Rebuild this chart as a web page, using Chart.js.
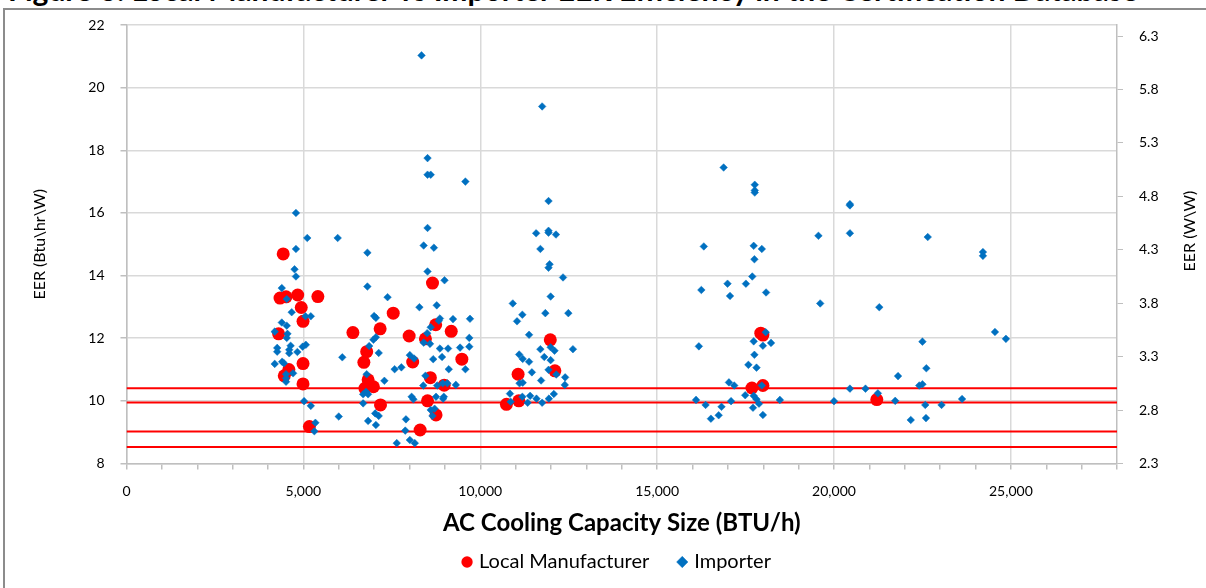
<!DOCTYPE html>
<html>
<head>
<meta charset="utf-8">
<script src="https://cdn.jsdelivr.net/npm/chart.js@4.4.1/dist/chart.umd.min.js"></script>
<style>
  html, body { margin: 0; padding: 0; background: #fff; }
  body { width: 1206px; height: 588px; position: relative; overflow: hidden; }
  #caption { position: absolute; left: 8px; top: -26px; font: bold 30px/30px Lato, sans-serif; color: #000; white-space: nowrap; }
  #frame { position: absolute; left: 3px; top: 8px; width: 1220px; height: 600px; border-left: 2px solid #8c8c8c; border-top: 2px solid #8c8c8c; }
  #chartScatter { position: absolute; left: 0; top: 0; }
</style>
</head>
<body>
<div id="caption">Figure 6: Local Manufacturer vs Importer EER Efficiency in the Certification Database</div>
<div id="frame"></div>
<canvas id="chartScatter" width="1206" height="588"></canvas>
<script>
// Scatter: EER vs cooling capacity, local manufacturers vs importers
// points are [capacity BTU/h, EER Btu/h/W]

const localPoints = [
    [4430, 14.69], [4340, 13.28], [4510, 13.32], [4840, 13.38], [5410, 13.33],
    [4940, 12.98], [4990, 12.54], [4300, 12.14], [6400, 12.18], [4990, 11.19],
    [4590, 11.0], [4460, 10.8], [4990, 10.54], [5170, 9.18],
    [8650, 13.76], [7540, 12.8], [7170, 12.3], [8740, 12.43], [9180, 12.22],
    [7990, 12.07], [8450, 11.98], [6790, 11.57], [6710, 11.23], [8090, 11.24],
    [9480, 11.33], [8590, 10.74], [8980, 10.5], [6830, 10.67], [6980, 10.45],
    [6740, 10.4], [7180, 9.87], [8510, 10.0], [8750, 9.55], [8300, 9.07],
    [11980, 11.95], [11070, 10.85], [12110, 10.96], [10740, 9.89], [11090, 10.0],
    [17930, 12.16], [17990, 12.1], [17680, 10.41], [17990, 10.49], [21210, 10.04]
];

const importerPoints = [
    // ~4,000 - 6,000
    [4790, 16.0], [5110, 15.2], [5970, 15.2], [4790, 14.85], [4750, 14.2],
    [4790, 13.97], [4390, 13.6], [4530, 13.25], [4670, 12.83], [5060, 12.7],
    [5210, 12.7], [4390, 12.5], [4530, 12.4], [4190, 12.21], [4550, 12.14],
    [4530, 12.01], [4640, 11.76], [4260, 11.69], [4260, 11.57], [4600, 11.63],
    [4600, 11.52], [4830, 11.56], [4980, 11.73], [5070, 11.79], [6100, 11.39],
    [4190, 11.18], [4400, 11.25], [4450, 11.2], [4710, 10.88], [4510, 10.85],
    [4510, 10.72], [4510, 10.61], [5020, 9.99], [5210, 9.84], [6000, 9.5],
    [5340, 9.3], [5310, 9.03],
    // ~7,000 - 10,000
    [6810, 14.73], [6810, 13.65], [6790, 10.85], [6770, 10.29], [6690, 10.21],
    [6830, 10.21], [6690, 9.92], [6830, 9.36],
    [8340, 21.03], [8510, 17.75], [8510, 17.22], [8600, 17.22], [9580, 17.0],
    [8510, 15.52], [8400, 14.96], [8690, 14.89], [8510, 14.13], [8990, 13.85],
    [7380, 13.31], [8280, 12.99], [8770, 13.05], [7000, 12.71], [7050, 12.65],
    [8860, 12.63], [8830, 12.56], [9230, 12.61], [9710, 12.62], [8600, 12.35],
    [7050, 12.03], [6980, 11.95], [6860, 11.75], [8500, 12.16], [8400, 11.86],
    [8580, 11.82], [8860, 11.67], [9090, 11.67], [9430, 11.7], [9690, 12.01],
    [9690, 11.73], [7130, 11.53], [8920, 11.4], [8670, 11.33], [8010, 11.46],
    [8130, 11.35], [7580, 11.01], [7770, 11.07], [9110, 11.01], [9580, 11.01],
    [7290, 10.64], [8450, 10.8], [8390, 10.49], [8780, 10.49], [8940, 10.56],
    [9070, 10.56], [9310, 10.51], [8060, 10.13], [8110, 10.05], [8750, 10.13],
    [8970, 10.13], [8950, 10.07], [8600, 9.71], [8650, 9.52], [8710, 9.75],
    [7030, 9.6], [7130, 9.52], [7050, 9.23], [7900, 9.41], [7880, 9.05],
    [7640, 8.65], [8010, 8.75], [8150, 8.65],
    // ~11,000 - 12,600
    [11750, 19.4], [11930, 16.38], [11580, 15.35], [11930, 15.43], [11930, 15.37],
    [12140, 15.31], [11700, 14.85], [11960, 14.36], [11930, 14.25], [12340, 13.94],
    [11990, 13.33], [10920, 13.11], [11840, 12.8], [12490, 12.8], [11040, 12.54],
    [11190, 12.75], [11380, 12.11], [11700, 11.65], [11990, 11.71], [12100, 11.6],
    [12620, 11.65], [11100, 11.48], [11200, 11.34], [11380, 11.25], [11810, 11.4],
    [11990, 11.3], [11460, 10.91], [11930, 10.99], [12150, 10.84], [11110, 10.56],
    [11200, 10.58], [11720, 10.65], [12400, 10.75], [12390, 10.51], [10840, 10.23],
    [12080, 10.22], [11190, 10.13], [11410, 10.16], [11590, 10.07], [11940, 10.07],
    [10860, 9.97], [11340, 9.94], [11750, 9.94],
    // ~16,000 - 18,500
    [16880, 17.45], [17760, 16.9], [17760, 16.72], [17760, 16.65], [16320, 14.93],
    [17730, 14.95], [17960, 14.85], [17750, 14.52], [17690, 13.97], [16990, 13.74],
    [17510, 13.74], [16250, 13.54], [17060, 13.35], [18080, 13.46], [18070, 12.19],
    [17730, 11.9], [17990, 11.76], [18220, 11.85], [16180, 11.74], [17750, 11.47],
    [17580, 11.15], [17810, 11.06], [17030, 10.59], [17180, 10.49], [17960, 10.49],
    [17490, 10.18], [17730, 10.16], [17810, 10.05], [16100, 10.03], [18470, 10.03],
    [17090, 9.99], [16370, 9.87], [17880, 9.91], [16820, 9.81], [17710, 9.78],
    [17990, 9.55], [16740, 9.54], [16520, 9.43],
    // 19,500+
    [19560, 15.27], [19610, 13.11], [20450, 16.28], [20450, 16.24], [20450, 15.35],
    [20450, 10.39], [20000, 9.99], [22650, 15.23], [24210, 14.75], [24210, 14.63],
    [21280, 12.99], [24550, 12.2], [24860, 11.98], [22500, 11.89], [22610, 11.04],
    [21810, 10.79], [22410, 10.49], [22500, 10.53], [20890, 10.39], [21240, 10.24],
    [21730, 10.0], [22580, 9.87], [23040, 9.87], [23620, 10.06], [22170, 9.39],
    [22600, 9.45]
];

// red horizontal reference levels (Btu/h/W)
const thresholdEER = [10.4, 9.95, 9.02, 8.53];

const rightTicks = [2.3, 2.8, 3.3, 3.8, 4.3, 4.8, 5.3, 5.8, 6.3];
const BTU_PER_WATT = 3.412;
const leftTitle = 'EER (Btu\\hr\\W)';
const rightTitle = 'EER (W\\W)';
const FONT = 'Lato';

const toXY = pts => pts.map(p => ({ x: p[0], y: p[1] }));

// right axis title reads bottom-to-top like the left one
const rightTitlePlugin = {
    id: 'rightTitle',
    afterDraw(chart) {
        const s = chart.scales.y2;
        const c = chart.ctx;
        c.save();
        c.translate(s.right - 16, 231);
        c.rotate(-Math.PI / 2);
        c.font = '16px ' + FONT;
        c.fillStyle = '#000';
        c.textAlign = 'center';
        c.textBaseline = 'middle';
        c.fillText(rightTitle, 0, 0);
        c.restore();
    }
};

const ctx = document.getElementById('chartScatter').getContext('2d');

new Chart(ctx, {
    type: 'scatter',
    data: {
        datasets: [
            {
                label: 'Local Manufacturer',
                data: toXY(localPoints),
                pointStyle: 'circle',
                pointRadius: 6.5,
                pointHoverRadius: 6.5,
                backgroundColor: '#ff0000',
                borderColor: '#ff0000',
                borderWidth: 0,
                order: 1
            },
            {
                label: 'Importer',
                data: toXY(importerPoints),
                pointStyle: 'rectRot',
                pointRadius: 3.8,
                pointHoverRadius: 3.8,
                backgroundColor: '#0070c0',
                borderColor: '#0070c0',
                borderWidth: 0.5,
                order: 0
            },
            ...thresholdEER.map(v => ({
                label: 'level',
                data: [{ x: 0, y: v }, { x: 28000, y: v }],
                showLine: true,
                borderColor: '#ff0000',
                borderWidth: 2,
                pointRadius: 0,
                pointHoverRadius: 0,
                fill: false,
                order: 2
            }))
        ]
    },
    options: {
        responsive: false,
        animation: false,
        layout: { padding: { left: 30, right: 0, top: 25, bottom: 6 } },
        plugins: {
            tooltip: { enabled: false },
            legend: {
                display: true,
                position: 'bottom',
                labels: {
                    color: '#000',
                    font: { family: FONT, size: 20 },
                    usePointStyle: true,
                    boxHeight: 8,
                    boxWidth: 4,
                    padding: 31,
                    filter: item => item.datasetIndex < 2,
                    sort: (a, b) => a.datasetIndex - b.datasetIndex
                }
            }
        },
        scales: {
            x: {
                type: 'linear',
                min: 0,
                max: 28000,
                grid: {
                    color: c => (c.tick && c.tick.value % 5000 === 0) ? '#d9d9d9' : 'rgba(0,0,0,0)',
                    lineWidth: 1.5,
                    tickColor: '#bfbfbf',
                    tickLength: 6
                },
                border: { color: '#bfbfbf', width: 1.5 },
                ticks: {
                    stepSize: 1000,
                    autoSkip: false,
                    maxRotation: 0,
                    padding: 14,
                    color: '#000',
                    font: { family: FONT, size: 14 },
                    callback: v => v % 5000 === 0 ? v.toLocaleString('en-US') : ''
                },
                title: {
                    display: true,
                    text: 'AC Cooling Capacity Size (BTU/h)',
                    color: '#000',
                    font: { family: FONT, size: 24, weight: 'bold' },
                    padding: { top: 0, bottom: -16.4 }
                },
                afterFit: s => { s.height = 57.5; }
            },
            y: {
                position: 'left',
                min: 8,
                max: 22,
                grid: { color: '#d9d9d9', lineWidth: 1.5, tickColor: '#bfbfbf', tickLength: 6 },
                border: { color: '#bfbfbf', width: 1.5 },
                ticks: {
                    stepSize: 2,
                    padding: 16,
                    color: '#000',
                    font: { family: FONT, size: 14 }
                },
                title: {
                    display: true,
                    text: leftTitle,
                    color: '#000',
                    font: { family: FONT, size: 16 },
                    padding: { top: 0.5, bottom: 0 }
                },
                afterFit: s => { s.width = 96.5; }
            },
            y2: {
                position: 'right',
                min: rightTicks[0],
                max: rightTicks[0] + 14 / BTU_PER_WATT,
                grid: { drawOnChartArea: false, tickColor: '#bfbfbf', tickLength: 6 },
                border: { color: '#bfbfbf', width: 1.5 },
                afterBuildTicks: s => { s.ticks = rightTicks.map(v => ({ value: v })); },
                ticks: {
                    padding: 16,
                    color: '#000',
                    font: { family: FONT, size: 14 },
                    callback: v => v.toFixed(1)
                },
                afterFit: s => { s.width = 89; }
            }
        }
    },
    plugins: [rightTitlePlugin]
});
</script>
</body>
</html>
